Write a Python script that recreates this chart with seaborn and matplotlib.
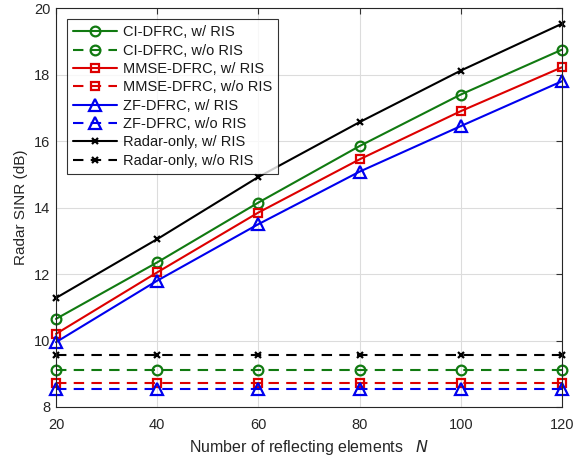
"""Radar SINR vs number of reflecting elements N."""

import numpy as np
import pandas as pd
import seaborn as sns
from matplotlib import pyplot as plt

##########
# Data   #
##########
n_elements = [20, 40, 60, 80, 100, 120]

ci_ris = [10.65, 12.35, 14.15, 15.85, 17.4, 18.75]
ci_noris = [9.11, 9.11, 9.11, 9.11, 9.11, 9.11]
mmse_ris = [10.2, 12.05, 13.85, 15.45, 16.9, 18.22]
mmse_noris = [8.71, 8.71, 8.71, 8.71, 8.71, 8.71]
zf_ris = [9.95, 11.8, 13.5, 15.08, 16.45, 17.8]
zf_noris = [8.54, 8.54, 8.54, 8.54, 8.54, 8.54]
radar_ris = [11.28, 13.05, 14.92, 16.57, 18.12, 19.53]
radar_noris = [9.56, 9.56, 9.56, 9.56, 9.56, 9.56]

labels = ['CI-DFRC, w/ RIS', 'CI-DFRC, w/o RIS',
          'MMSE-DFRC, w/ RIS', 'MMSE-DFRC, w/o RIS',
          'ZF-DFRC, w/ RIS', 'ZF-DFRC, w/o RIS',
          'Radar-only, w/ RIS', 'Radar-only, w/o RIS']
series = [ci_ris, ci_noris, mmse_ris, mmse_noris,
          zf_ris, zf_noris, radar_ris, radar_noris]

#########
# Style #
#########
sns.set_style('white')
plt.rcParams['font.family'] = ['Liberation Sans', 'DejaVu Sans']
plt.rcParams['xtick.direction'] = 'in'
plt.rcParams['ytick.direction'] = 'in'

colors = ['#117a11', '#117a11', '#dd0000', '#dd0000',
          '#0000ee', '#0000ee', 'black', 'black']
markers = ['o', 'o', 's', 's', '^', '^', 'x', 'x']
msizes = [7, 7, 5.5, 5.5, 8, 8, 5, 5]

########
# Plot #
########
fig = plt.figure(figsize=(5.73, 4.59), dpi=100)
ax = fig.add_axes([0.0977, 0.1133, 0.883, 0.869])

for i, (lab, vals) in enumerate(zip(labels, series)):
    df = pd.DataFrame({'N': n_elements, 'sinr': vals})
    dashed = (i % 2 == 1)
    sns.lineplot(
        ax=ax, data=df, x='N', y='sinr',
        color=colors[i], marker=markers[i], markersize=msizes[i],
        markerfacecolor='none', markeredgecolor=colors[i],
        markeredgewidth=1.6, linewidth=1.5, label=lab,
        linestyle=(0, (5, 3.5)) if dashed else '-',
        clip_on=False,
    )

ax.set_xlim(20, 120)
ax.set_ylim(8, 20)
ax.set_xticks(np.arange(20, 121, 20))
ax.set_yticks(np.arange(8, 21, 2))
ax.grid(True, color='#dcdcdc', linewidth=0.8)
ax.tick_params(labelsize=10.5, top=True, right=True, length=4, width=0.8,
               color='#333333', labelcolor='#262626')
ax.tick_params(axis='x', pad=8)
ax.tick_params(axis='y', pad=4)
for sp in ax.spines.values():
    sp.set_color('#262626')
    sp.set_linewidth(0.8)

ax.set_xlabel('Number of reflecting elements   $\\mathit{N}$', fontsize=11.5,
              color='#262626', labelpad=4)
ax.set_ylabel('Radar SINR (dB)', fontsize=11, color='#262626', labelpad=4)

leg = ax.legend(loc='upper left', bbox_to_anchor=(0.008, 0.99), fontsize=10.5,
                frameon=True, fancybox=False, handlelength=3.0,
                labelspacing=0.3, borderpad=0.4, handletextpad=0.4)
leg.get_frame().set_edgecolor('black')
leg.get_frame().set_linewidth(0.8)
for t in leg.get_texts():
    t.set_color('#1a1a1a')

plt.savefig('out.png', dpi=100)
